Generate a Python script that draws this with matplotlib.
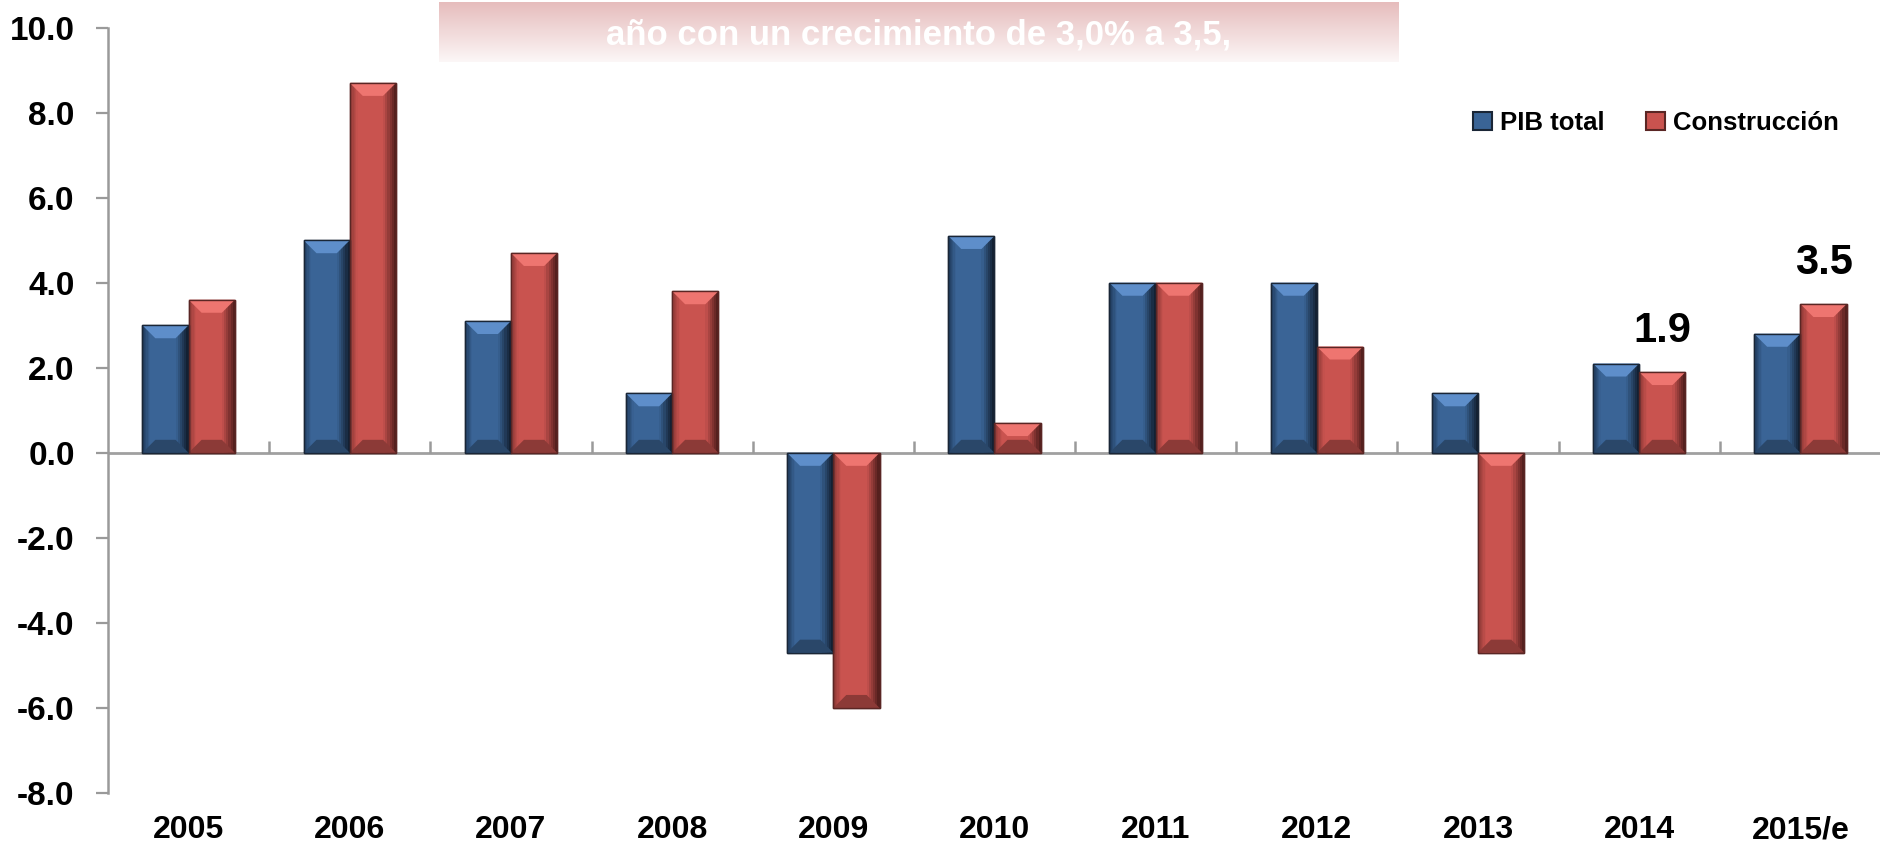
import matplotlib
matplotlib.use('Agg')
import matplotlib.pyplot as plt
import numpy as np
from matplotlib.patches import Polygon, Patch, Rectangle
from matplotlib.colors import to_rgb
from matplotlib import font_manager

# ---------------- data ----------------
categories = ['2005', '2006', '2007', '2008', '2009', '2010', '2011', '2012', '2013', '2014', '2015/e']
pib_total = [3.0, 5.0, 3.1, 1.4, -4.7, 5.1, 4.0, 4.0, 1.4, 2.1, 2.8]
construccion = [3.6, 8.7, 4.7, 3.8, -6.0, 0.7, 4.0, 2.5, -4.7, 1.9, 3.5]
series_names = ['PIB total', 'Construcción']
yticks = [-8.0, -6.0, -4.0, -2.0, 0.0, 2.0, 4.0, 6.0, 8.0, 10.0]
annotated_years = ['2014', '2015/e']
banner_text = 'año con un crecimiento de 3,0% a 3,5,'

# ---------------- fonts ----------------
names = {f.name for f in font_manager.fontManager.ttflist}
narrow_found = 'Liberation Sans Narrow' in names
NARROW = ['Liberation Sans Narrow' if narrow_found else 'Liberation Sans', 'DejaVu Sans']
WIDE = ['Liberation Sans', 'DejaVu Sans']
sz_x = 26 if narrow_found else 23
sz_leg = 20 if narrow_found else 18.5
sz_ann = 32 if narrow_found else 30
sz_ban = 27 if narrow_found else 25

W, H = 1881, 860
fig = plt.figure(figsize=(W / 100, H / 100), dpi=100)
fig.patch.set_facecolor('white')

y_top_px, y_bot_px = 27.6, 793.0
ax_left_px = 108
ax = fig.add_axes([ax_left_px / W, 1 - y_bot_px / H, (W - ax_left_px) / W, (y_bot_px - y_top_px) / H])
ax.set_xlim(-0.5, len(categories) - 0.5)
ax.set_ylim(-8, 10)

x = np.arange(len(categories))
bw = 0.287
blue = dict(main='#3A6496', top='#5E8ECA', left='#1E3858', right='#0F1B2A', bottom='#2A4769', edge='#1A2636')
red = dict(main='#C9534F', top='#EE7570', left='#8A3734', right='#4A1B19', bottom='#8C3A37', edge='#5A2624')

bars_b = ax.bar(x - bw / 2, pib_total, bw, color=blue['main'], edgecolor=blue['edge'], linewidth=1.0, zorder=3)
bars_r = ax.bar(x + bw / 2, construccion, bw, color=red['main'], edgecolor=red['edge'], linewidth=1.0, zorder=3)


def mix(c1, c2, t):
    a, b = np.array(to_rgb(c1)), np.array(to_rgb(c2))
    return tuple(a * (1 - t) + b * t)


def bevel(patch, c):
    L = patch.get_x()
    w = patch.get_width()
    R = L + w
    y0 = patch.get_y()
    h = patch.get_height()
    B, T = min(y0, y0 + h), max(y0, y0 + h)
    inv = ax.transData.inverted()
    p0 = inv.transform((0, 0))
    p1 = inv.transform((13, 13))
    bx = min(p1[0] - p0[0], w / 2)
    by = min(p1[1] - p0[1], (T - B) / 2)
    # shadow below the bar
    sh = inv.transform((0, 0))[1] - inv.transform((0, 7))[1]
    if h > 0:
        ax.add_patch(Rectangle((L + 0.01, B - sh), w - 0.005, sh, facecolor='#7A7A7A', alpha=0.25,
                               edgecolor='none', zorder=2.5))
    # right side gradient strips
    n = 6
    for k in range(n):
        x1 = R - bx * k / n
        x2 = R - bx * (k + 1) / n
        ax.add_patch(Rectangle((x2, B), x1 - x2, T - B, facecolor=mix(c['right'], c['main'], (k + 0.5) / n),
                               edgecolor='none', zorder=4))
    # left side gradient strips (narrower)
    bl = bx * 0.6
    for k in range(n):
        x1 = L + bl * k / n
        x2 = L + bl * (k + 1) / n
        ax.add_patch(Rectangle((x1, B), x2 - x1, T - B, facecolor=mix(c['left'], c['main'], (k + 0.5) / n),
                               edgecolor='none', zorder=4))
    # top / bottom bevels
    ax.add_patch(Polygon([(L, T), (R, T), (R - bx, T - by), (L + bx, T - by)], closed=True,
                         facecolor=c['top'], edgecolor='none', zorder=4.5))
    ax.add_patch(Polygon([(L, B), (R, B), (R - bx, B + by), (L + bx, B + by)], closed=True,
                         facecolor=c['bottom'], edgecolor='none', zorder=4.5))
    ax.add_patch(Rectangle((L, B), w, T - B, facecolor='none', edgecolor=c['edge'], linewidth=1.0, zorder=5))


for p in bars_b:
    bevel(p, blue)
for p in bars_r:
    bevel(p, red)

# axes styling
for s in ['top', 'right', 'bottom']:
    ax.spines[s].set_visible(False)
ax.spines['left'].set_color('#9A9A9A')
ax.spines['left'].set_linewidth(1.8)
ax.axhline(0, color='#A0A0A0', linewidth=2.0, zorder=2)

inv = ax.transData.inverted()
tick_len = inv.transform((0, 0))[1] - inv.transform((0, 12))[1]
ax.vlines(x[:-1] + 0.5, -tick_len, 0, color='#9A9A9A', linewidth=1.8, zorder=2)

ax.set_yticks(yticks)
ax.set_yticklabels([f'{v:.1f}' for v in yticks], fontfamily=WIDE, fontweight='bold', fontsize=24)
ax.tick_params(axis='y', direction='out', length=9, width=1.6, color='#9A9A9A', pad=15)
ax.set_xticks(x)
ax.set_xticklabels(categories, fontfamily=NARROW, fontweight='bold', fontsize=sz_x)
ax.tick_params(axis='x', length=0, pad=16)

# annotations
for yr in annotated_years:
    i = categories.index(yr)
    ax.annotate(f'{construccion[i]:.1f}', xy=(x[i] + bw / 2, construccion[i]), xytext=(0, 15),
                textcoords='offset points', ha='center', va='bottom', fontfamily=NARROW,
                fontweight='bold', fontsize=sz_ann, zorder=6)

# legend
handles = [Patch(facecolor=blue['main'], edgecolor=blue['edge'], linewidth=1.5),
           Patch(facecolor=red['main'], edgecolor=red['edge'], linewidth=1.5)]
fig.legend(handles, series_names, loc='center left', bbox_to_anchor=(1450 / W, 1 - 123 / H), ncol=2,
           frameon=False, handlelength=0.75, handleheight=0.75, handletextpad=0.3, columnspacing=1.6,
           prop=dict(family=NARROW, weight='bold', size=sz_leg))

# banner
bax = fig.add_axes([439 / W, 1 - 62 / H, 960 / W, 60 / H])
grad = np.linspace(0, 1, 100)[:, None]
top_c = np.array([230, 188, 188]) / 255
bot_c = np.array([252, 247, 247]) / 255
img = top_c[None, None, :] * (1 - grad[:, :, None]) + bot_c[None, None, :] * grad[:, :, None]
img = np.repeat(img, 2, axis=1)
bax.imshow(img, aspect='auto', extent=(0, 1, 0, 1))
bax.set_axis_off()
bax.text(0.5, 0.45, banner_text, ha='center', va='center', color='white', fontfamily=NARROW,
         fontweight='bold', fontsize=sz_ban, transform=bax.transAxes)

fig.savefig('out.png', dpi=100, facecolor='white')
